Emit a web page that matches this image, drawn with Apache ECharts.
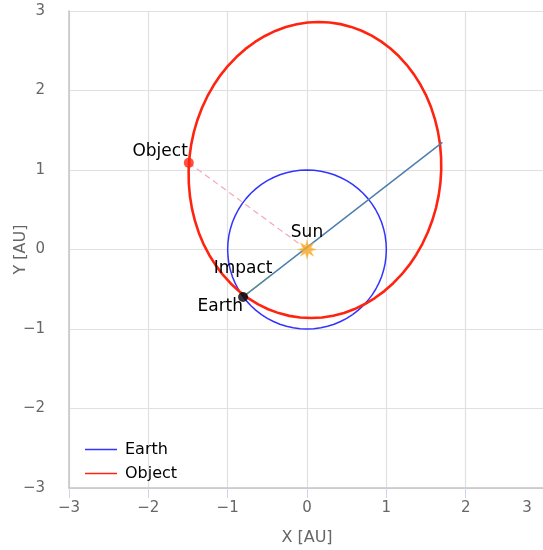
<!DOCTYPE html>
<html>
<head>
<meta charset="utf-8">
<title>Orbits</title>
<script src="https://cdn.jsdelivr.net/npm/echarts@6/dist/echarts.min.js"></script>
<style>
  html, body { margin: 0; padding: 0; background: #fff; }
  #chart { width: 543px; height: 550px; }
</style>
</head>
<body>
<div id="chart"></div>
<script>
// Axis ticks (AU)
const ticks = [-3, -2, -1, 0, 1, 2, 3];

// Earth orbit, sampled every 5 degrees
const earthOrbit = [
  [1.000, 0.000], [0.996, 0.087], [0.985, 0.174], [0.966, 0.259], [0.940, 0.342], [0.906, 0.423],
  [0.866, 0.500], [0.819, 0.574], [0.766, 0.643], [0.707, 0.707], [0.643, 0.766], [0.574, 0.819],
  [0.500, 0.866], [0.423, 0.906], [0.342, 0.940], [0.259, 0.966], [0.174, 0.985], [0.087, 0.996],
  [0.000, 1.000], [-0.087, 0.996], [-0.174, 0.985], [-0.259, 0.966], [-0.342, 0.940], [-0.423, 0.906],
  [-0.500, 0.866], [-0.574, 0.819], [-0.643, 0.766], [-0.707, 0.707], [-0.766, 0.643], [-0.819, 0.574],
  [-0.866, 0.500], [-0.906, 0.423], [-0.940, 0.342], [-0.966, 0.259], [-0.985, 0.174], [-0.996, 0.087],
  [-1.000, 0.000], [-0.996, -0.087], [-0.985, -0.174], [-0.966, -0.259], [-0.940, -0.342], [-0.906, -0.423],
  [-0.866, -0.500], [-0.819, -0.574], [-0.766, -0.643], [-0.707, -0.707], [-0.643, -0.766], [-0.574, -0.819],
  [-0.500, -0.866], [-0.423, -0.906], [-0.342, -0.940], [-0.259, -0.966], [-0.174, -0.985], [-0.087, -0.996],
  [0.000, -1.000], [0.087, -0.996], [0.174, -0.985], [0.259, -0.966], [0.342, -0.940], [0.423, -0.906],
  [0.500, -0.866], [0.574, -0.819], [0.643, -0.766], [0.707, -0.707], [0.766, -0.643], [0.819, -0.574],
  [0.866, -0.500], [0.906, -0.423], [0.940, -0.342], [0.966, -0.259], [0.985, -0.174], [0.996, -0.087],
  [1.000, 0.000]
];

// Object orbit
const objectOrbit = [
  [0.286, 2.856], [0.423, 2.835], [0.557, 2.800], [0.689, 2.752], [0.815, 2.690], [0.937, 2.615],
  [1.052, 2.528], [1.159, 2.430], [1.259, 2.320], [1.350, 2.200], [1.431, 2.072], [1.503, 1.935],
  [1.563, 1.791], [1.612, 1.641], [1.650, 1.486], [1.676, 1.328], [1.690, 1.166], [1.692, 1.004],
  [1.682, 0.842], [1.660, 0.681], [1.626, 0.522], [1.580, 0.367], [1.523, 0.217], [1.455, 0.072],
  [1.377, -0.065], [1.290, -0.194], [1.193, -0.314], [1.087, -0.424], [0.975, -0.523], [0.855, -0.611],
  [0.730, -0.686], [0.600, -0.749], [0.467, -0.798], [0.330, -0.833], [0.192, -0.855], [0.053, -0.862],
  [-0.086, -0.856], [-0.223, -0.835], [-0.357, -0.800], [-0.489, -0.752], [-0.615, -0.690], [-0.737, -0.615],
  [-0.852, -0.528], [-0.959, -0.430], [-1.059, -0.320], [-1.150, -0.200], [-1.231, -0.072], [-1.303, 0.065],
  [-1.363, 0.209], [-1.412, 0.359], [-1.450, 0.514], [-1.476, 0.673], [-1.490, 0.834], [-1.492, 0.996],
  [-1.482, 1.158], [-1.460, 1.319], [-1.426, 1.478], [-1.380, 1.633], [-1.323, 1.783], [-1.255, 1.928],
  [-1.177, 2.065], [-1.090, 2.194], [-0.993, 2.314], [-0.887, 2.424], [-0.775, 2.523], [-0.655, 2.611],
  [-0.530, 2.686], [-0.400, 2.749], [-0.267, 2.798], [-0.130, 2.833], [0.008, 2.855], [0.147, 2.862],
  [0.286, 2.856]
];

// Bodies
const sunPos = [0, 0];
const earthPos = [-0.806, -0.597];
const objectPos = [-1.49, 1.09];

// Impact direction: from Earth through the Sun to the object's orbit
const impactLine = [earthPos, [1.707, 1.348]];
const impactNear = [earthPos, [-0.46, -0.33]];
// Object to Sun
const objectSunLine = [objectPos, sunPos];

const starPath = 'path://M50,0 L58.4,29.7 L85.4,14.6 L70.3,41.6 L100,50 L70.3,58.4 L85.4,85.4 L58.4,70.3 L50,100 L41.6,70.3 L14.6,85.4 L29.7,58.4 L0,50 L29.7,41.6 L14.6,14.6 L41.6,29.7 Z';
const lineIcon = 'path://M0,0 L32,0 L32,1.5 L0,1.5 Z';

const FONT = '"DejaVu Sans", "Lucida Grande", sans-serif';
const minus = v => String(v).replace('-', '\u2212');

const labelStyle = { color: '#000', fontSize: 17, fontFamily: FONT, opacity: 1 };

const chart = echarts.init(document.getElementById('chart'), null, { renderer: 'canvas' });

chart.setOption({
  animation: false,
  backgroundColor: '#fff',
  grid: { left: 69, top: 11, right: -2, bottom: 62, containLabel: false, outerBoundsMode: 'none' },
  legend: {
    orient: 'vertical',
    left: 80,
    top: 435,
    padding: 5,
    itemWidth: 32,
    itemHeight: 1.5,
    itemGap: 5,
    data: [
      { name: 'Earth', icon: lineIcon },
      { name: 'Object', icon: lineIcon }
    ],
    textStyle: { color: '#000', fontSize: 16, fontFamily: FONT, padding: [0, 0, 0, 3], lineHeight: 19 }
  },
  xAxis: {
    type: 'value',
    min: ticks[0],
    max: ticks[ticks.length - 1],
    interval: 1,
    name: 'X [AU]',
    nameLocation: 'middle',
    nameGap: 42,
    nameMoveOverlap: false,
    nameTextStyle: { color: '#666', fontSize: 16, fontFamily: FONT },
    axisLine: { show: true, onZero: false, lineStyle: { color: '#c4c4c4', width: 1.5 } },
    axisTick: { show: true, length: 10, lineStyle: { color: '#ccd6eb' } },
    splitLine: { show: true, lineStyle: { color: '#e0e0e0', width: 1.2 } },
    axisLabel: {
      color: '#666', fontSize: 15, fontFamily: FONT, margin: 13,
      showMinLabel: true, showMaxLabel: true,
      formatter: v => v === ticks[ticks.length - 1] ? '{r|' + minus(v) + '}' : minus(v),
      rich: { r: { color: '#666', fontSize: 15, fontFamily: FONT, padding: [0, 36, 0, 0] } }
    }
  },
  yAxis: {
    type: 'value',
    min: ticks[0],
    max: ticks[ticks.length - 1],
    interval: 1,
    name: 'Y [AU]',
    nameLocation: 'middle',
    nameGap: 40,
    nameRotate: 90,
    nameMoveOverlap: false,
    nameTextStyle: { color: '#666', fontSize: 16, fontFamily: FONT },
    axisLine: { show: true, onZero: false, lineStyle: { color: '#c4c4c4', width: 1.5 } },
    axisTick: { show: false },
    splitLine: { show: true, lineStyle: { color: '#e0e0e0', width: 1.2 } },
    axisLabel: {
      color: '#666', fontSize: 15, fontFamily: FONT, margin: 24,
      padding: [6, 0, 0, 0],
      formatter: minus
    }
  },
  series: [
    {
      name: 'Earth', type: 'line', data: earthOrbit, symbol: 'none',
      lineStyle: { color: '#3333ff', width: 1.5 }, itemStyle: { color: '#3333ff' }, z: 2
    },
    {
      name: 'Object', type: 'line', data: objectOrbit, symbol: 'none',
      lineStyle: { color: '#ff2410', width: 2.6, join: 'round' }, itemStyle: { color: '#ff2410' }, z: 3
    },
    {
      name: 'Object–Sun', type: 'line', data: objectSunLine, symbol: 'none',
      lineStyle: { color: '#f5a8ba', width: 1.2, type: [6, 4] }, z: 2
    },
    {
      name: 'Impact direction', type: 'line', data: impactLine, symbol: 'none',
      lineStyle: { color: '#4d7fae', width: 1.5 }, z: 4
    },
    {
      name: 'Impact path', type: 'line', data: impactNear, symbol: 'none',
      lineStyle: { color: '#5f9a4f', width: 1.2, type: [3, 2], opacity: 0.7 }, z: 5
    },
    {
      name: 'Sun', type: 'scatter', data: [sunPos], symbol: starPath, symbolSize: 19,
      itemStyle: { color: '#f7a623', borderColor: '#f3c24a', borderWidth: 0.5 },
      label: { show: true, position: 'top', distance: -1, formatter: 'Sun', ...labelStyle },
      z: 6
    },
    {
      name: 'Impact', type: 'scatter', data: [earthPos], symbolSize: 2,
      itemStyle: { color: 'rgba(0,0,0,0)' },
      label: { show: true, position: 'top', distance: 19, formatter: 'Impact', ...labelStyle },
      z: 6
    },
    {
      name: 'Earth position', type: 'scatter', data: [earthPos], symbolSize: 10,
      itemStyle: { color: '#000' },
      label: { show: true, position: 'left', distance: -5, offset: [0, 10], formatter: 'Earth', ...labelStyle },
      z: 7
    },
    {
      name: 'Object position', type: 'scatter', data: [objectPos], symbolSize: 10,
      itemStyle: { color: '#ff2410' },
      label: { show: true, position: 'left', distance: -4, offset: [0, -11], formatter: 'Object', ...labelStyle },
      z: 7
    }
  ]
});
</script>
</body>
</html>
